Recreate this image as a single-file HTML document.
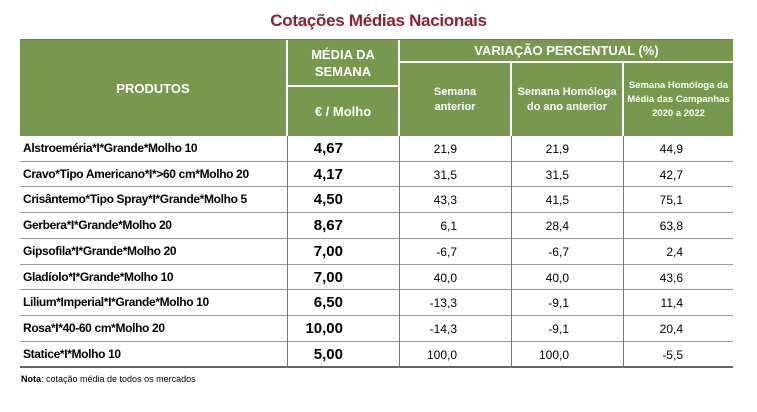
<!DOCTYPE html>
<html><head><meta charset="utf-8">
<style>
body{margin:0;width:757px;height:412px;background:#fff;position:relative;overflow:hidden;font-family:"Liberation Sans",sans-serif;}
.a{position:absolute;}
.hd{position:absolute;background:#78984f;color:#fff;font-weight:bold;text-align:center;display:flex;align-items:center;justify-content:center;}
.cell{position:absolute;font-size:12px;color:#000;white-space:nowrap;}
</style></head><body>
<div class="a" style="left:0;width:757px;top:11px;text-align:center;font-size:17px;color:#8b2332;font-weight:bold;letter-spacing:-0.3px;">Cotações Médias Nacionais</div>
<div class="a" style="left:20px;top:39px;width:713px;height:1px;background:#777"></div>
<div class="hd" style="left:20px;top:40px;width:266px;height:96px;font-size:13px;">PRODUTOS</div>
<div class="hd" style="left:288px;top:40px;width:110px;height:45px;font-size:13px;line-height:17px;">MÉDIA DA<br>SEMANA</div>
<div class="hd" style="left:288px;top:87px;width:110px;height:49px;font-size:13px;">€ / Molho</div>
<div class="hd" style="left:400px;top:40px;width:333px;height:21px;font-size:13px;">VARIAÇÃO PERCENTUAL (%)</div>
<div class="hd" style="left:400px;top:63px;width:110px;height:73px;font-size:11px;line-height:15px;">Semana<br>anterior</div>
<div class="hd" style="left:512px;top:63px;width:110px;height:73px;font-size:11px;line-height:15px;">Semana Homóloga<br>do ano anterior</div>
<div class="hd" style="left:624px;top:63px;width:109px;height:73px;font-size:9.5px;line-height:14px;">Semana Homóloga da<br>Média das Campanhas<br>2020 a 2022</div>
<div id="body"></div>
<div class="a" style="left:21px;top:374px;font-size:9px;color:#000;"><b>Nota</b>: cotação média de todos os mercados</div>
<script>
const produtos=["Alstroeméria*I*Grande*Molho 10","Cravo*Tipo Americano*I*>60 cm*Molho 20","Crisântemo*Tipo Spray*I*Grande*Molho 5","Gerbera*I*Grande*Molho 20","Gipsofila*I*Grande*Molho 20","Gladíolo*I*Grande*Molho 10","Lilium*Imperial*I*Grande*Molho 10","Rosa*I*40-60 cm*Molho 20","Statice*I*Molho 10"];
const precos=["4,67","4,17","4,50","8,67","7,00","7,00","6,50","10,00","5,00"];
const varSemana=["21,9","31,5","43,3","6,1","-6,7","40,0","-13,3","-14,3","100,0"];
const varAno=["21,9","31,5","41,5","28,4","-6,7","40,0","-9,1","-9,1","100,0"];
const varCamp=["44,9","42,7","75,1","63,8","2,4","43,6","11,4","20,4","-5,5"];
const b=document.getElementById('body');
const top0=136,rh=25.7;
function add(html,name,style){const d=document.createElement('div');d.className='cell';d.style.cssText=style;d.textContent=html;


b.appendChild(d);return d;}
produtos.forEach((p,i)=>{
 const y=top0+i*rh;
 add(p,'product-name','left:23px;top:'+(y+5)+'px;font-weight:bold;font-size:12px;letter-spacing:-0.35px;');
 add(precos[i],'price-value','right:'+(757-343)+'px;top:'+(y+4)+'px;font-weight:bold;font-size:15px;');
 add(varSemana[i],'var-semana-value','right:'+(757-457)+'px;top:'+(y+6)+'px;');
 add(varAno[i],'var-ano-value','right:'+(757-569)+'px;top:'+(y+6)+'px;');
 add(varCamp[i],'var-campanhas-value','right:'+(757-683)+'px;top:'+(y+6)+'px;');
 const l=add('','row-divider','left:20px;top:'+Math.round(y+rh-1)+'px;width:713px;height:'+(i==produtos.length-1?2:1)+'px;background:'+(i==produtos.length-1?'#666':'#999')+';');
});
const bottom=top0+produtos.length*rh;
[287,399,511,623].forEach(x=>{
 add('','column-divider','left:'+x+'px;top:'+top0+'px;width:1px;height:'+(bottom-top0)+'px;background:#777;');
});
</script>
</body></html>
